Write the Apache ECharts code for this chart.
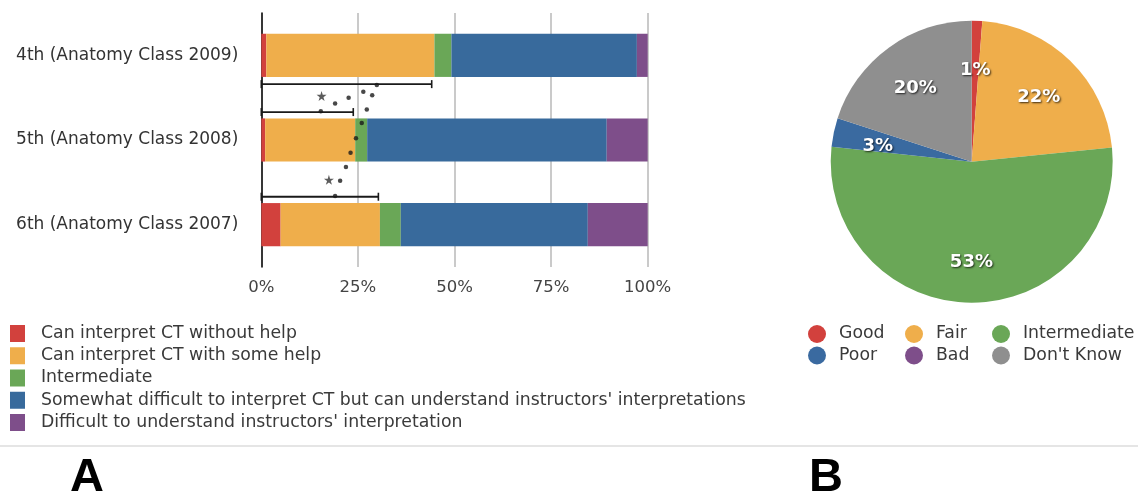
<!DOCTYPE html>
<html>
<head>
<meta charset="utf-8">
<script src="https://cdn.jsdelivr.net/npm/echarts@6/dist/echarts.min.js"></script>
<style>
html,body{margin:0;padding:0;background:#fff;}
#c{width:1138px;height:498px;}
</style>
</head>
<body>
<div id="c"></div>
<script>
// ---------- Panel A data ----------
var categories = ['4th (Anatomy Class 2009)', '5th (Anatomy Class 2008)', '6th (Anatomy Class 2007)'];
var barNames = [
  'Can interpret CT without help',
  'Can interpret CT with some help',
  'Intermediate',
  "Somewhat difficult to interpret CT but can understand instructors' interpretations",
  "Difficult to understand instructors' interpretation"
];
var canWithout   = [1.3, 1.0, 5.0];
var canWithHelp  = [43.5, 23.3, 25.7];
var intermediate = [4.4, 3.1, 5.4];
var somewhat     = [48.0, 62.0, 48.4];
var difficult    = [2.8, 10.6, 15.5];
var xTicks = [0, 25, 50, 75, 100];

// significance brackets: [percent, row-position] (row 0..3, row centers at .5/1.5/2.5)
var bracket1 = [[0, 0.84], [44.1, 0.84]];
var bracket2 = [[0, 1.17], [23.8, 1.17]];
var bracket3 = [[0, 2.17], [30.3, 2.17]];
var stars = [[15.6, 0.98], [17.5, 1.97]];
var dots = [
  [29.9, 0.85], [26.4, 0.93], [28.7, 0.97], [22.6, 1.00], [19.1, 1.07],
  [15.4, 1.16], [27.3, 1.14], [26.0, 1.30], [24.5, 1.48], [23.1, 1.65],
  [21.9, 1.82], [20.4, 1.98], [19.1, 2.16]
];

// ---------- Panel B data ----------
var pieNames  = ['Good', 'Fair', 'Intermediate', 'Poor', 'Bad', "Don't Know"];
var pieValues = [1.2, 22.2, 53.3, 3.3, 0, 20.0];

var barColors = ['#d2413d', '#efae4b', '#6aa757', '#386a9c', '#7e4e8a'];
var pieColors = ['#d2413d', '#efae4b', '#6aa757', '#3a6aa0', '#7e4e8a', '#8f8f8f'];

var FONT = 'DejaVu Sans, Verdana, sans-serif';
var barSeriesData = [canWithout, canWithHelp, intermediate, somewhat, difficult];

var series = [];
barSeriesData.forEach(function (arr, i) {
  series.push({
    type: 'bar', name: barNames[i], stack: 'total', data: arr,
    xAxisIndex: 0, yAxisIndex: 0, barWidth: '51%',
    itemStyle: { color: barColors[i], borderWidth: 0 },
    emphasis: { disabled: true }
  });
});
[bracket1, bracket2, bracket3].forEach(function (b) {
  series.push({
    type: 'line', data: b, xAxisIndex: 0, yAxisIndex: 1,
    symbol: 'rect', symbolSize: [1.6, 8], showSymbol: true,
    itemStyle: { color: '#1a1a1a' },
    lineStyle: { color: '#1a1a1a', width: 1.8 },
    silent: true, z: 5, animation: false
  });
});
series.push({
  type: 'scatter', data: dots, xAxisIndex: 0, yAxisIndex: 1,
  symbol: 'circle', symbolSize: 4.5, itemStyle: { color: '#1a1a1a' }, silent: true, z: 6
});
series.push({
  type: 'scatter', data: stars, xAxisIndex: 0, yAxisIndex: 1,
  symbol: 'path://M50,0 L61,35 L98,35 L68,57 L79,91 L50,70 L21,91 L32,57 L2,35 L39,35 Z',
  symbolSize: 10, itemStyle: { color: '#333' }, silent: true, z: 6
});

var pieData = pieNames.map(function (n, i) {
  return { name: n, value: pieValues[i], itemStyle: { color: pieColors[i] } };
});
series.push({
  type: 'pie', name: 'pieMain', center: [971.7, 161.7], radius: [0, 141],
  startAngle: 90, clockwise: true, data: pieData,
  itemStyle: { borderWidth: 0 },
  label: { show: false }, labelLine: { show: false },
  emphasis: { disabled: true }, animation: false
});
series.push({
  type: 'pie', name: 'pieLabels', center: [971.7, 166.2], radius: [45, 141],
  startAngle: 90, clockwise: true, silent: true,
  data: pieNames.map(function (n, i) {
    return { name: n, value: pieValues[i], itemStyle: { color: 'rgba(0,0,0,0)' } };
  }),
  itemStyle: { borderWidth: 0 },
  label: {
    show: true, position: 'inside',
    formatter: function (p) { return p.value > 0 ? Math.round(p.value) + '%' : ''; },
    color: '#fff', fontSize: 18, fontWeight: 'bold', fontFamily: FONT,
    textShadowColor: 'rgba(0,0,0,0.75)', textShadowBlur: 2,
    textShadowOffsetX: 1, textShadowOffsetY: 1
  },
  labelLine: { show: false },
  emphasis: { disabled: true }, animation: false, legendHoverLink: false
});

var LFS = 17.3;
var legendText = {
  fontSize: LFS, color: '#3a3a3a', fontFamily: FONT,
  rich: { t: { fontSize: LFS, color: '#3a3a3a', fontFamily: FONT, padding: [0, 0, 0, 11] } }
};
var pieLegendText = {
  fontSize: LFS, color: '#3a3a3a', fontFamily: FONT,
  rich: { t: { fontSize: LFS, color: '#3a3a3a', fontFamily: FONT, padding: [0, 0, 0, 8] } }
};
function mkPieLegend(names, left) {
  return {
    orient: 'vertical', left: left, top: 325, data: names,
    icon: 'circle', itemWidth: 18, itemHeight: 18, itemGap: 3.5,
    padding: 0, selectedMode: false, textStyle: pieLegendText,
    formatter: function (n) { return '{t|' + n + '}'; }
  };
}

var option = {
  animation: false,
  backgroundColor: '#fff',
  title: [
    { text: 'A', left: 70, top: 455, padding: 0, textStyle: { fontSize: 47, fontWeight: 'bold', color: '#000', fontFamily: 'Liberation Sans, Arial, sans-serif' } },
    { text: 'B', left: 809, top: 455, padding: 0, textStyle: { fontSize: 47, fontWeight: 'bold', color: '#000', fontFamily: 'Liberation Sans, Arial, sans-serif' } }
  ],
  grid: { left: 261.3, right: 490.3, top: 13, bottom: 231, containLabel: false },
  xAxis: [{
    type: 'value', min: xTicks[0], max: xTicks[xTicks.length - 1], interval: 25,
    axisLine: { show: false }, axisTick: { show: false },
    axisLabel: { formatter: '{value}%', fontSize: 16.5, color: '#444', fontFamily: FONT, margin: 12 },
    splitLine: { show: true, lineStyle: { color: '#b8b8b8', width: 1.5 } }
  }],
  yAxis: [{
    type: 'category', data: categories, inverse: true,
    axisLine: { show: true, lineStyle: { color: '#111', width: 1.6 } },
    axisTick: { show: false },
    axisLabel: { fontSize: 17, color: '#333', fontFamily: FONT, margin: 23 },
    splitLine: { show: false }
  }, {
    type: 'value', min: 0, max: 3, inverse: true, show: false,
    splitLine: { show: false }
  }],
  legend: [{
    orient: 'vertical', left: 10, top: 325, data: barNames,
    icon: 'rect', itemWidth: 15, itemHeight: 17, itemGap: 5.25,
    padding: 0, selectedMode: false, textStyle: legendText,
    formatter: function (n) { return '{t|' + n + '}'; }
  },
    mkPieLegend(['Good', 'Poor'], 808),
    mkPieLegend(['Fair', 'Bad'], 905),
    mkPieLegend(['Intermediate', "Don't Know"], 992)
  ],
  graphic: [{
    type: 'line', shape: { x1: 0, y1: 446, x2: 1138, y2: 446 },
    style: { stroke: '#dcdcdc', lineWidth: 1.5 }, silent: true
  }],
  series: series
};

var chart = echarts.init(document.getElementById('c'), null, { renderer: 'canvas' });
chart.setOption(option);
</script>
</body>
</html>
